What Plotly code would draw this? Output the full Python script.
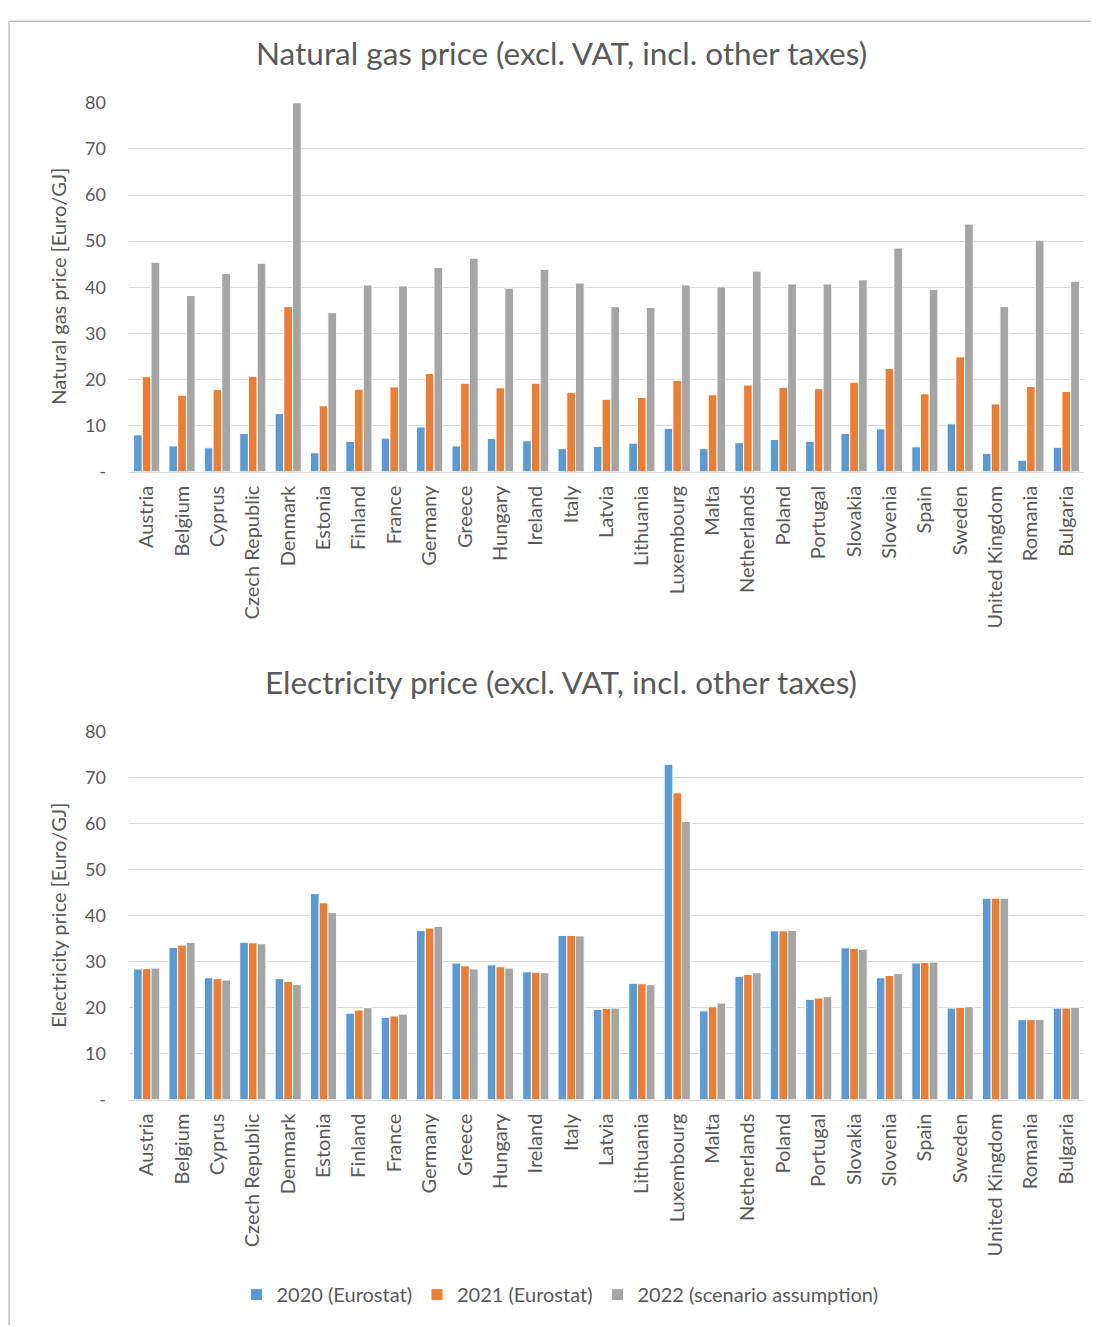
import plotly.graph_objects as go

countries = ["Austria", "Belgium", "Cyprus", "Czech Republic", "Denmark", "Estonia", "Finland",
             "France", "Germany", "Greece", "Hungary", "Ireland", "Italy", "Latvia", "Lithuania",
             "Luxembourg", "Malta", "Netherlands", "Poland", "Portugal", "Slovakia", "Slovenia",
             "Spain", "Sweden", "United Kingdom", "Romania", "Bulgaria"]

gas_2020 = [8.0, 5.6, 5.2, 8.3, 12.6, 4.1, 6.6, 7.3, 9.7, 5.6, 7.2, 6.7, 5.0, 5.5, 6.2,
            9.4, 5.0, 6.3, 7.0, 6.6, 8.3, 9.3, 5.4, 10.4, 4.0, 2.5, 5.3]
gas_2021 = [20.6, 16.6, 17.8, 20.7, 35.8, 14.3, 17.9, 18.4, 21.3, 19.2, 18.2, 19.2, 17.2, 15.7, 16.1,
            19.8, 16.7, 18.8, 18.3, 18.0, 19.4, 22.4, 16.9, 24.9, 14.7, 18.5, 17.4]
gas_2022 = [45.4, 38.2, 43.0, 45.2, 80.0, 34.5, 40.5, 40.3, 44.3, 46.3, 39.8, 43.9, 40.9, 35.8, 35.6,
            40.5, 40.1, 43.5, 40.7, 40.7, 41.6, 48.5, 39.5, 53.7, 35.8, 50.2, 41.3]

elec_2020 = [28.4, 33.1, 26.5, 34.2, 26.3, 44.8, 18.8, 17.9, 36.8, 29.7, 29.3, 27.8, 35.7, 19.6, 25.3,
             72.9, 19.3, 26.8, 36.7, 21.8, 33.0, 26.5, 29.7, 19.9, 43.8, 17.4, 19.9]
elec_2021 = [28.5, 33.6, 26.3, 34.1, 25.7, 42.8, 19.5, 18.2, 37.3, 29.1, 28.9, 27.7, 35.7, 19.8, 25.2,
             66.7, 20.2, 27.2, 36.7, 22.1, 32.9, 27.0, 29.8, 20.1, 43.8, 17.4, 19.9]
elec_2022 = [28.6, 34.2, 26.0, 33.9, 25.0, 40.7, 20.0, 18.6, 37.7, 28.4, 28.6, 27.6, 35.6, 19.9, 25.0,
             60.5, 21.0, 27.6, 36.8, 22.4, 32.7, 27.4, 29.9, 20.2, 43.8, 17.4, 20.1]

series_names = ["2020 (Eurostat)", "2021 (Eurostat)", "2022 (scenario assumption)"]
colors = ["#5B9BD5", "#ED7D31", "#A5A5A5"]
ytickvals = [0, 10, 20, 30, 40, 50, 60, 70, 80]
yticktext = ["-", "10", "20", "30", "40", "50", "60", "70", "80"]

W, H = 1099, 1327
FONT = "Lato"
TXT = "#595959"
GRID = "#D9D9D9"

# mapping from target pixel position to paper fraction (compensates page offset)
Y0, HE = 19.2, 1305.2
X0 = 7.0


def py(y):
    return 1 - (y - Y0) / HE


def px(x):
    return (x - X0) / W


fig = go.Figure()
for name, vals, col in zip(series_names, [gas_2020, gas_2021, gas_2022], colors):
    fig.add_trace(go.Bar(x=countries, y=vals, name=name, xaxis="x", yaxis="y",
                         marker=dict(color=col, line=dict(color="white", width=1))))
for name, vals, col in zip(series_names, [elec_2020, elec_2021, elec_2022], colors):
    fig.add_trace(go.Bar(x=countries, y=vals, name=name, xaxis="x2", yaxis="y2", showlegend=False,
                         marker=dict(color=col, line=dict(color="white", width=1))))

xdom = [px(128), px(1083)]
ydom1 = [py(471), py(102)]
ydom2 = [py(1099), py(731)]

xcommon = dict(domain=xdom, tickangle=-90, showgrid=False, showline=True, linecolor=GRID,
               linewidth=1, ticks="", tickfont=dict(family=FONT, size=20, color=TXT),
               ticklabelstandoff=5, fixedrange=True)
ycommon = dict(range=[0, 80], tickvals=ytickvals, ticktext=yticktext, showgrid=True,
               gridcolor=GRID, gridwidth=1, zeroline=False, showline=False, ticks="",
               tickfont=dict(family=FONT, size=18, color=TXT), ticklabelstandoff=22)

fig.update_layout(
    width=W, height=H,
    margin=dict(l=0, r=0, t=0, b=0),
    paper_bgcolor="white", plot_bgcolor="white",
    barmode="group", bargap=0.26, bargroupgap=0.0,
    font=dict(family=FONT, color=TXT),
    xaxis=dict(anchor="y", **xcommon),
    yaxis=dict(anchor="x", domain=ydom1, **ycommon),
    xaxis2=dict(anchor="y2", **xcommon),
    yaxis2=dict(anchor="x2", domain=ydom2, **ycommon),
    legend=dict(orientation="h", x=px(559), xanchor="center", y=py(1294), yanchor="middle",
                font=dict(family=FONT, size=20, color=TXT), itemwidth=30, traceorder="normal"),
    annotations=[
        dict(text="Natural gas price (excl. VAT, incl. other taxes)", x=px(560), y=py(52),
             xref="paper", yref="paper", showarrow=False, xanchor="center", yanchor="middle",
             font=dict(family=FONT, size=31.5, color=TXT)),
        dict(text="Electricity price (excl. VAT, incl. other taxes)", x=px(560), y=py(681),
             xref="paper", yref="paper", showarrow=False, xanchor="center", yanchor="middle",
             font=dict(family=FONT, size=31.5, color=TXT)),
        dict(text="Natural gas price [Euro/GJ]", x=px(57), y=py(286), textangle=-90,
             xref="paper", yref="paper", showarrow=False, xanchor="center", yanchor="middle",
             font=dict(family=FONT, size=20, color=TXT)),
        dict(text="Electricity price [Euro/GJ]", x=px(57), y=py(915), textangle=-90,
             xref="paper", yref="paper", showarrow=False, xanchor="center", yanchor="middle",
             font=dict(family=FONT, size=20, color=TXT)),
    ],
    shapes=[
        dict(type="line", xref="paper", yref="paper", x0=0.001, x1=1, y0=0.999, y1=0.999,
             line=dict(color="#BFBFBF", width=1.5)),
        dict(type="line", xref="paper", yref="paper", x0=0.001, x1=0.001, y0=0, y1=0.999,
             line=dict(color="#BFBFBF", width=1.5)),
    ],
)

fig.write_html("out.html")
